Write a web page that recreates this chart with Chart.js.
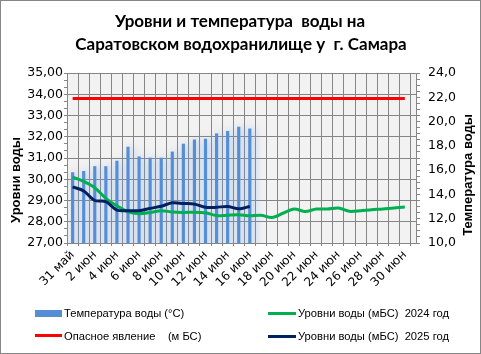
<!DOCTYPE html>
<html>
<head>
<meta charset="utf-8">
<script src="https://cdn.jsdelivr.net/npm/chart.js@4/dist/chart.umd.min.js"></script>
<style>
  body { margin: 0; background: #fff; }
  #wrap { position: relative; width: 481px; height: 354px; }
  #frame { position: absolute; left: 0; top: 0; width: 481px; height: 354px; box-sizing: border-box; border: 1px solid #868686; pointer-events: none; }
  .leg { position: absolute; font-family: "Liberation Sans", Arial, sans-serif; font-size: 11.2px; color: #000; white-space: pre; line-height: 14px; }
  .mark { position: absolute; }
</style>
</head>
<body>
<div id="wrap">
  <canvas id="grafico" width="481" height="354"></canvas>
  <div id="frame"></div>

  <div class="mark" style="left:35px; top:310px; width:27px; height:7px; background:#558ed5;"></div>
  <div class="leg" style="left:64px; top:306px;">Температура воды (°C)</div>

  <div class="mark" style="left:35px; top:334px; width:27px; height:3px; background:#ff0000;"></div>
  <div class="leg" style="left:64px; top:329px;">Опасное явление    (м БС)</div>

  <div class="mark" style="left:268px; top:312px; width:28px; height:3px; background:#00b050;"></div>
  <div class="leg" style="left:298px; top:306px;">Уровни воды (мБС)  2024 год</div>

  <div class="mark" style="left:268px; top:335px; width:28px; height:3px; background:#002060;"></div>
  <div class="leg" style="left:298px; top:329px;">Уровни воды (мБС)  2025 год</div>
</div>

<script>
// даты по оси X
var datas = ['31 май', '1 июн', '2 июн', '3 июн', '4 июн', '5 июн', '6 июн', '7 июн', '8 июн', '9 июн',
    '10 июн', '11 июн', '12 июн', '13 июн', '14 июн', '15 июн', '16 июн', '17 июн', '18 июн', '19 июн',
    '20 июн', '21 июн', '22 июн', '23 июн', '24 июн', '25 июн', '26 июн', '27 июн', '28 июн', '29 июн', '30 июн'];

// температура воды 2025 (°C), правая ось
var temperatura = [15.8, 15.9, 16.3, 16.3, 16.75, 17.9, 17.1, 17.0, 17.0, 17.5, 18.15, 18.5, 18.55, 19.0, 19.2, 19.55, 19.4];

// уровни воды (мБС)
var nivel2024 = [30.10, 29.90, 29.60, 29.10, 28.75, 28.47, 28.38, 28.43, 28.52, 28.46, 28.44, 28.45, 28.42, 28.29, 28.31,
    28.33, 28.28, 28.31, 28.20, 28.40, 28.60, 28.48, 28.60, 28.60, 28.65, 28.49, 28.52, 28.57, 28.60, 28.65, 28.69];
var nivel2025 = [29.64, 29.45, 29.00, 28.95, 28.55, 28.52, 28.52, 28.63, 28.73, 28.89, 28.86, 28.83, 28.68, 28.68, 28.72, 28.61, 28.72];

// опасное явление
var perigo = [33.8, 33.8, 33.8, 33.8, 33.8, 33.8, 33.8, 33.8, 33.8, 33.8, 33.8, 33.8, 33.8, 33.8, 33.8, 33.8,
    33.8, 33.8, 33.8, 33.8, 33.8, 33.8, 33.8, 33.8, 33.8, 33.8, 33.8, 33.8, 33.8, 33.8, 33.8];

// деления осей
var ticksNivel = [27, 28, 29, 30, 31, 32, 33, 34, 35];
var ticksTemp = [10, 12, 14, 16, 18, 20, 22, 24];

var tituloLinhas = ['Уровни и температура  воды на', 'Саратовском водохранилище у  г. Самара'];

function pontos(valores) {
    var lista = [];
    for (var i = 0; i < valores.length; i++) {
        lista.push({ x: i, y: valores[i] });
    }
    return lista;
}

var cinza = '#868686';

// заголовок и подписи осей
var textosPlugin = {
    id: 'textos',
    afterDraw: function (chart) {
        var ctx = chart.ctx;
        ctx.save();
        ctx.fillStyle = '#000';
        ctx.textAlign = 'center';
        ctx.textBaseline = 'alphabetic';
        ctx.font = 'bold 17px Lato, "Open Sans", sans-serif';
        ctx.fillText(tituloLinhas[0], 240, 27);
        ctx.fillText(tituloLinhas[1], 241, 50);

        ctx.font = 'bold 13px "Liberation Sans", Arial, sans-serif';
        ctx.textBaseline = 'middle';
        ctx.translate(16, 180);
        ctx.rotate(-Math.PI / 2);
        ctx.fillText('Уровни воды', 0, 0);
        ctx.restore();

        ctx.save();
        ctx.fillStyle = '#000';
        ctx.textAlign = 'center';
        ctx.textBaseline = 'middle';
        ctx.font = 'bold 13px "Liberation Sans", Arial, sans-serif';
        ctx.translate(468, 175);
        ctx.rotate(-Math.PI / 2);
        ctx.fillText('Температура воды', 0, 0);
        ctx.restore();
    }
};

// мягкая тень у столбиков
var sombraPlugin = {
    id: 'sombra',
    beforeDatasetDraw: function (chart, args) {
        if (args.meta.type === 'bar') {
            chart.ctx.save();
            chart.ctx.shadowColor = 'rgba(120, 165, 225, 0.75)';
            chart.ctx.shadowBlur = 8;
            chart.ctx.shadowOffsetX = 3;
        }
    },
    afterDatasetDraw: function (chart, args) {
        if (args.meta.type === 'bar') {
            chart.ctx.restore();
        }
    }
};

// фон области построения
var fundoPlugin = {
    id: 'fundo',
    beforeDraw: function (chart) {
        var a = chart.chartArea;
        chart.ctx.save();
        chart.ctx.fillStyle = '#f2f2f2';
        chart.ctx.fillRect(a.left, a.top, a.right - a.left, a.bottom - a.top);
        chart.ctx.restore();
    }
};

const ctx = document.getElementById('grafico');

new Chart(ctx, {
    data: {
        datasets: [{
            type: 'line',
            label: 'Опасное явление    (м БС)',
            data: pontos(perigo),
            yAxisID: 'yNivel',
            borderColor: '#ff0000',
            borderWidth: 3,
            pointRadius: 0,
            order: 3
        }, {
            type: 'line',
            label: 'Уровни воды (мБС)  2024 год',
            data: pontos(nivel2024),
            yAxisID: 'yNivel',
            borderColor: '#00b050',
            borderWidth: 3,
            pointRadius: 0,
            tension: 0.3,
            order: 2
        }, {
            type: 'line',
            label: 'Уровни воды (мБС)  2025 год',
            data: pontos(nivel2025),
            yAxisID: 'yNivel',
            borderColor: '#002060',
            borderWidth: 3,
            pointRadius: 0,
            tension: 0.3,
            order: 1
        }, {
            type: 'bar',
            label: 'Температура воды (°C)',
            data: pontos(temperatura),
            yAxisID: 'yTemp',
            backgroundColor: '#558ed5',
            barThickness: 2.5,
            order: 10
        }]
    },
    options: {
        responsive: false,
        animation: false,
        layout: { padding: { top: 73, left: 0, right: 0, bottom: 0 } },
        plugins: {
            legend: { display: false },
            title: { display: false },
            tooltip: { enabled: false }
        },
        scales: {
            x: {
                type: 'linear',
                min: 0,
                max: 30.5,
                afterFit: function (s) { s.height = 111; },
                border: { color: cinza },
                grid: { color: cinza, tickColor: cinza, tickLength: 3 },
                ticks: {
                    stepSize: 1,
                    maxTicksLimit: 100,
                    includeBounds: false,
                    autoSkip: false,
                    minRotation: 45,
                    maxRotation: 45,
                    padding: 2,
                    color: '#000',
                    font: { family: '"DejaVu Sans", Verdana, sans-serif', size: 12 },
                    callback: function (v) {
                        return v % 2 === 0 ? datas[v] : '';
                    }
                }
            },
            yNivel: {
                position: 'left',
                min: 27,
                max: 35,
                afterFit: function (s) { s.width = 67; },
                afterBuildTicks: function (s) {
                    var t = [];
                    for (var i = 0; i < ticksNivel.length; i++) {
                        t.push({ value: ticksNivel[i], major: true });
                        if (i < ticksNivel.length - 1) {
                            t.push({ value: ticksNivel[i] + 1 / 3, major: false });
                            t.push({ value: ticksNivel[i] + 2 / 3, major: false });
                        }
                    }
                    s.ticks = t;
                },
                border: { color: cinza },
                grid: {
                    color: function (c) { return c.tick && c.tick.major ? cinza : 'rgba(0,0,0,0)'; },
                    tickColor: cinza,
                    tickLength: 3
                },
                ticks: {
                    autoSkip: false,
                    padding: 1,
                    color: '#000',
                    font: { family: '"DejaVu Sans", Verdana, sans-serif', size: 12.5 },
                    callback: function (v, i, t) {
                        return t[i].major ? v.toFixed(2).replace('.', ',') : '';
                    }
                }
            },
            yTemp: {
                position: 'right',
                min: 10,
                max: 24,
                afterFit: function (s) { s.width = 65; },
                afterBuildTicks: function (s) {
                    var t = [];
                    for (var i = 0; i < ticksTemp.length; i++) {
                        t.push({ value: ticksTemp[i], major: true });
                        if (i < ticksTemp.length - 1) {
                            t.push({ value: ticksTemp[i] + 0.5, major: false });
                            t.push({ value: ticksTemp[i] + 1, major: false });
                            t.push({ value: ticksTemp[i] + 1.5, major: false });
                        }
                    }
                    s.ticks = t;
                },
                border: { color: cinza },
                grid: { drawOnChartArea: false, tickColor: cinza, tickLength: 4 },
                ticks: {
                    autoSkip: false,
                    padding: 8,
                    color: '#000',
                    font: { family: '"DejaVu Sans", Verdana, sans-serif', size: 12.5 },
                    callback: function (v, i, t) {
                        return t[i].major ? v.toFixed(1).replace('.', ',') : '';
                    }
                }
            }
        }
    },
    plugins: [fundoPlugin, sombraPlugin, textosPlugin]
});
</script>
</body>
</html>
